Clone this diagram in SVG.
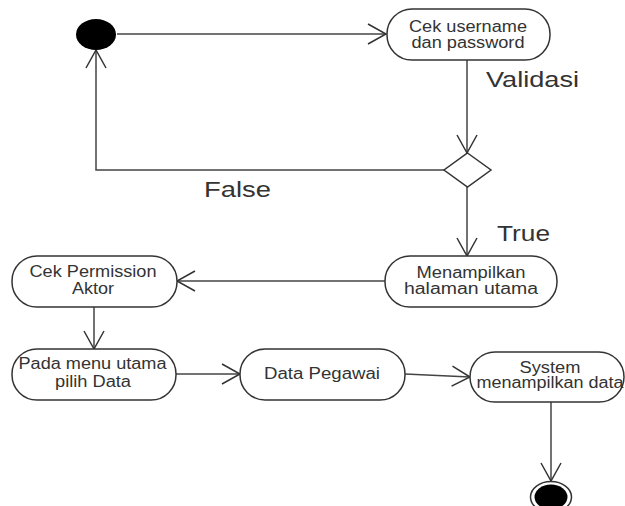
<svg xmlns="http://www.w3.org/2000/svg" width="625" height="506" viewBox="0 0 625 506">
<style>
.node{fill:#fff;stroke:#333;stroke-width:1.5}
.t{font-family:"Liberation Sans",Arial,sans-serif;font-size:16px;fill:#333;text-anchor:middle}
.lbl{font-family:"Liberation Sans",Arial,sans-serif;font-size:22px;fill:#333}
.c{fill:none;stroke:#444;stroke-width:1.5}
</style>
<defs>
<marker id="arr" markerUnits="userSpaceOnUse" markerWidth="22" markerHeight="24" viewBox="0 0 22 24" refX="20" refY="12" orient="auto">
<path d="M2,2 L20,12 L2,22" fill="none" stroke="#333" stroke-width="1.5"/>
</marker>
</defs>
<rect width="625" height="506" fill="#fff"/>
<g id="connectors">
<path class="c" d="M117,34 L386,34" marker-end="url(#arr)"/>
<path class="c" d="M467,60 L467,153" marker-end="url(#arr)"/>
<path class="c" d="M444,170 L96,170 L96,50" marker-end="url(#arr)"/>
<path class="c" d="M467,187 L467,256" marker-end="url(#arr)"/>
<path class="c" d="M385,281 L177,281" marker-end="url(#arr)"/>
<path class="c" d="M94,307 L94,349" marker-end="url(#arr)"/>
<path class="c" d="M176,374 L240,374" marker-end="url(#arr)"/>
<path class="c" d="M405,374 L470,377" marker-end="url(#arr)"/>
<path class="c" d="M551,402 L551,481" marker-end="url(#arr)"/>
<text class="lbl" x="486" y="87" textLength="93" lengthAdjust="spacingAndGlyphs">Validasi</text>
<text class="lbl" x="204" y="197" textLength="67" lengthAdjust="spacingAndGlyphs">False</text>
<text class="lbl" x="497" y="241" textLength="53" lengthAdjust="spacingAndGlyphs">True</text>
</g>
<g id="start">
<ellipse cx="96" cy="34.5" rx="20" ry="15.5" fill="#000"/>
</g>
<g id="cek-username">
<rect class="node" x="387" y="9" width="163" height="51" rx="25" ry="25"/>
<text class="t" x="468" y="31.5" textLength="118" lengthAdjust="spacingAndGlyphs">Cek username</text>
<text class="t" x="468" y="47.5" textLength="113" lengthAdjust="spacingAndGlyphs">dan password</text>
</g>
<g id="decision">
<polygon class="node" points="467.5,153 491,170 467.5,187 444,170"/>
</g>
<g id="menampilkan">
<rect class="node" x="385" y="256" width="172" height="51" rx="25" ry="25"/>
<text class="t" x="471" y="278.3" textLength="109" lengthAdjust="spacingAndGlyphs">Menampilkan</text>
<text class="t" x="471" y="294" textLength="134" lengthAdjust="spacingAndGlyphs">halaman utama</text>
</g>
<g id="cek-permission">
<rect class="node" x="12" y="256" width="165" height="51" rx="25" ry="25"/>
<text class="t" x="93" y="277.3" textLength="127" lengthAdjust="spacingAndGlyphs">Cek Permission</text>
<text class="t" x="93" y="294" textLength="42" lengthAdjust="spacingAndGlyphs">Aktor</text>
</g>
<g id="pada-menu">
<rect class="node" x="12" y="349" width="164" height="51" rx="25" ry="25"/>
<text class="t" x="92.5" y="369" textLength="148" lengthAdjust="spacingAndGlyphs">Pada menu utama</text>
<text class="t" x="93" y="387.3" textLength="76" lengthAdjust="spacingAndGlyphs">pilih Data</text>
</g>
<g id="data-pegawai">
<rect class="node" x="240" y="349" width="165" height="51" rx="25" ry="25"/>
<text class="t" x="322" y="378.7" textLength="116" lengthAdjust="spacingAndGlyphs">Data Pegawai</text>
</g>
<g id="system">
<rect class="node" x="470" y="352" width="154" height="50" rx="25" ry="25"/>
<text class="t" x="550" y="372.7" textLength="61" lengthAdjust="spacingAndGlyphs">System</text>
<text class="t" x="550" y="388.3" textLength="147" lengthAdjust="spacingAndGlyphs">menampilkan data</text>
</g>
<g id="end">
<ellipse cx="551" cy="497" rx="20.5" ry="15.5" fill="#fff" stroke="#333" stroke-width="1.5"/>
<ellipse cx="551" cy="497" rx="16.5" ry="12.5" fill="#000"/>
</g>
</svg>
